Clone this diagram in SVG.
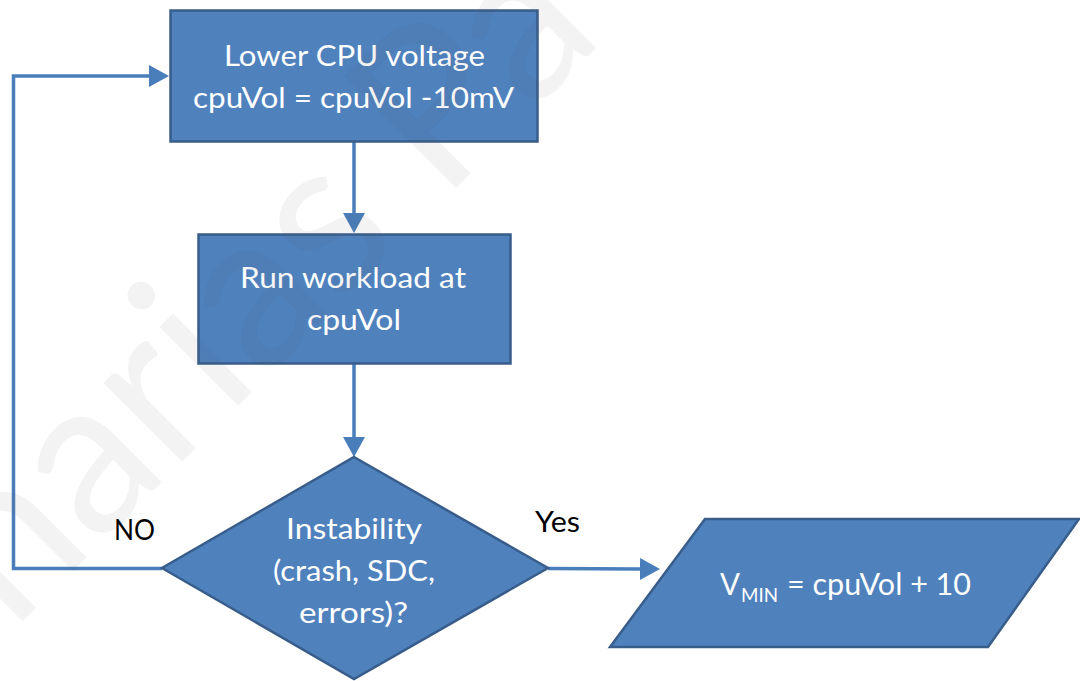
<svg xmlns="http://www.w3.org/2000/svg" width="1080" height="681" viewBox="0 0 1080 681">
  <style>
    .shape { fill: #4F81BD; stroke: #385D8A; stroke-width: 2.5; }
    .lbl { font-family: Lato, "Open Sans", "Liberation Sans", sans-serif; font-size: 28px; fill: #FFFFFF; text-anchor: middle; }
    .edge { font-family: Lato, "Open Sans", "Liberation Sans", sans-serif; font-size: 28px; fill: #000000; }
    .conn { fill: none; stroke: #4A7EBB; stroke-width: 3.5; }
    .wm { font-family: Lato, "Open Sans", sans-serif; font-size: 220px; fill: #555555; fill-opacity: 0.07; }
  </style>
  <defs>
    <marker id="arrow" viewBox="0 0 20 22" markerUnits="userSpaceOnUse" markerWidth="20" markerHeight="22" refX="0" refY="11" orient="auto">
      <path d="M0,0 L20,11 L0,22 Z" fill="#4A7EBB"/>
    </marker>
  </defs>
  <rect width="1080" height="681" fill="#FFFFFF"/>

  <g id="connectors">
    <path class="conn" d="M354,141 V213" marker-end="url(#arrow)"/>
    <path class="conn" d="M354,364 V437" marker-end="url(#arrow)"/>
    <path class="conn" d="M162,568.5 H13.5 V76 H149" marker-end="url(#arrow)"/>
    <path class="conn" d="M548,568.5 L640,569" marker-end="url(#arrow)"/>
  </g>

  <g id="node-lower">
    <rect class="shape" x="170.5" y="10.5" width="367" height="131"/>
    <text class="lbl" x="354.5" y="66" textLength="261" lengthAdjust="spacingAndGlyphs">Lower CPU voltage</text>
    <text class="lbl" x="353.5" y="108" textLength="321" lengthAdjust="spacingAndGlyphs">cpuVol = cpuVol -10mV</text>
  </g>

  <g id="node-run">
    <rect class="shape" x="198.5" y="234.5" width="312" height="129"/>
    <text class="lbl" x="353" y="288" textLength="226" lengthAdjust="spacingAndGlyphs">Run workload at</text>
    <text class="lbl" x="354" y="330" textLength="94" lengthAdjust="spacingAndGlyphs">cpuVol</text>
  </g>

  <g id="node-decision">
    <polygon class="shape" points="354,457 548,568 354,679 162,568"/>
    <text class="lbl" x="354" y="539" textLength="136" lengthAdjust="spacingAndGlyphs">Instability</text>
    <text class="lbl" x="354" y="581" textLength="162" lengthAdjust="spacingAndGlyphs">(crash, SDC,</text>
    <text class="lbl" x="353.5" y="623" textLength="109" lengthAdjust="spacingAndGlyphs">errors)?</text>
  </g>

  <g id="node-vmin">
    <polygon class="shape" points="705,519 1079,519 988,647 610,647"/>
    <text class="lbl" x="730" y="595" textLength="20" lengthAdjust="spacingAndGlyphs" style="font-size:30px">V</text>
    <text class="lbl" x="759.5" y="602" textLength="37" lengthAdjust="spacingAndGlyphs" style="font-size:19px">MIN</text>
    <text class="lbl" x="879" y="595" textLength="184" lengthAdjust="spacingAndGlyphs" style="font-size:30px">= cpuVol + 10</text>
  </g>

  <g id="edge-labels">
    <text class="edge" x="114" y="540" textLength="41" lengthAdjust="spacingAndGlyphs">NO</text>
    <text class="edge" x="535" y="532" textLength="45" lengthAdjust="spacingAndGlyphs">Yes</text>
  </g>

  <g id="watermark">
    <text class="wm" transform="translate(12,632) rotate(-45)" textLength="840" lengthAdjust="spacingAndGlyphs">harias Pa</text>
  </g>
</svg>
